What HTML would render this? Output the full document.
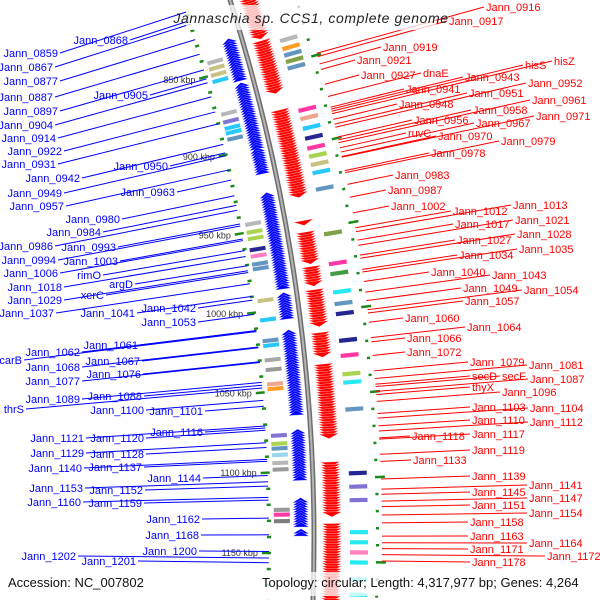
<!DOCTYPE html>
<html><head><meta charset="utf-8"><style>
html,body{margin:0;padding:0;background:#fff;}
svg{display:block;}
text{font-family:"Liberation Sans",sans-serif;}
</style></head><body>
<svg id="chart" width="600" height="600" viewBox="0 0 600 600" xmlns="http://www.w3.org/2000/svg">
<g id="ticks"></g>
<g id="boxes"></g>
<g id="arrows"></g>
<g id="backbone"></g>
<g id="lines"></g>
<g id="labels"></g>
<rect x="186" y="5" width="250" height="25" fill="#fff" fill-opacity="0.75"/>
<text x="311" y="23" text-anchor="middle" font-size="14" font-style="italic" fill="#222" letter-spacing="0.6">Jannaschia sp. CCS1, complete genome</text>
<text x="8" y="587" font-size="13" fill="#111">Accession: NC_007802</text>
<rect x="258" y="572" width="342" height="24" fill="#fff" fill-opacity="0.75"/>
<text x="262" y="587" font-size="13" fill="#111">Topology: circular; Length: 4,317,977 bp; Genes: 4,264</text>
</svg>
<script>
// ---- data ----
const tickKbp = [850, 900, 950, 1000, 1050, 1100, 1150];
const redClusterStart = [810, 838, 881, 949, 956, 977, 991, 1017, 1036, 1095, 1132];
const redClusterEnd   = [836, 870, 935, 951, 975, 989, 1013, 1031, 1081, 1127, 1179];
const blueClusterStart = [831, 859, 900, 928, 990, 1013, 1074, 1116, 1135];
const blueClusterEnd   = [857, 900, 916, 987, 1006, 1065, 1105, 1133, 1139];
const boxKbp = [841,845,849,853,874,879,883,886,890,944,949,953,960,964,969,972,992,1004,1017,1020,1029,1035,1044,1047,1076,1081,1084,1088,1093,1097,1122,1125,1129,
  840,845,849,853,857,883,888,894,900,906,911,916,921,931,958,976,982,993,1000,1006,1022,1031,1042,1047,1063,1101,1109,1117,1136,1142,1148,1154,1164,1173];
const boxSide = [-1,-1,-1,-1,-1,-1,-1,-1,-1,-1,-1,-1,-1,-1,-1,-1,-1,-1,-1,-1,-1,-1,-1,-1,-1,-1,-1,-1,-1,-1,-1,-1,-1,
  1,1,1,1,1,1,1,1,1,1,1,1,1,1,1,1,1,1,1,1,1,1,1,1,1,1,1,1,1,1,1,1,1];
const boxColor = ["#aaa","#bdb76b","#bdb76b","#00bfff","#aaa","#6a5acd","#00bfff","#00bfff","#4682b4","#aaa","#9acd32","#9acd32","#000080","#ff69b4","#4682b4","#4682b4","#bdb76b","#00bfff","#4682b4","#00bfff","#999","#888","#e9967a","#ff8c00","#6a5acd","#9acd32","#4682b4","#87ceeb","#aaa","#888","#888","#ff1493","#666",
  "#aaa","#ff8c00","#4682b4","#6b8e23","#4682b4","#ff1493","#e9967a","#00bfff","#000080","#ff1493","#9acd32","#bdb76b","#00bfff","#4682b4","#6b8e23","#ff1493","#228b22","#00e5ee","#4682b4","#000080","#000080","#ff1493","#9acd32","#00e5ee","#4682b4","#000080","#6a5acd","#6a5acd","#00e5ee","#00e5ee","#ff69b4","#00e5ee","#00e5ee","#00e5ee"];

const leftNames = ["Jann_0868","Jann_0859","Jann_0867","Jann_0877","Jann_0887","Jann_0905","Jann_0897","Jann_0904","Jann_0914","Jann_0922","Jann_0931","Jann_0942","Jann_0950","Jann_0949","Jann_0963","Jann_0957","Jann_0980","Jann_0984","Jann_0986","Jann_0993","Jann_0994","Jann_1003","Jann_1006","rimO","Jann_1018","argD","Jann_1029","xerC","Jann_1037","Jann_1041","Jann_1042","Jann_1053","Jann_1061","carB","Jann_1062","Jann_1067","Jann_1068","Jann_1076","Jann_1077","Jann_1088","Jann_1089","thrS","Jann_1100","Jann_1101","Jann_1116","Jann_1121","Jann_1120","Jann_1129","Jann_1128","Jann_1140","Jann_1137","Jann_1144","Jann_1153","Jann_1152","Jann_1160","Jann_1159","Jann_1162","Jann_1168","Jann_1200","Jann_1202","Jann_1201"];
const leftX = [128,58,53,58,53,148,58,53,56,62,56,80,168,62,175,64,120,101,53,116,56,118,58,101,62,133,62,104,54,135,196,196,138,22,80,140,80,141,80,142,80,24,144,203,203,84,144,84,144,82,142,201,83,143,81,142,200,199,197,76,136];
const leftY = [40,53,67,81,97,95,111,125,138,151,164,178,166,193,192,206,219,232,246,247,260,261,273,275,287,284,300,295,313,313,308,322,345,360,352,361,367,374,381,396,399,409,410,411,432,438,438,453,454,468,467,478,488,490,502,503,519,535,551,556,561];

const rightNames = ["Jann_0916","Jann_0917","Jann_0919","Jann_0921","Jann_0927","dnaE","hisS","hisZ","Jann_0943","Jann_0952","Jann_0941","Jann_0951","Jann_0961","Jann_0948","Jann_0958","Jann_0971","Jann_0956","Jann_0967","ruvC","Jann_0970","Jann_0979","Jann_0978","Jann_0983","Jann_0987","Jann_1002","Jann_1012","Jann_1013","Jann_1017","Jann_1021","Jann_1027","Jann_1028","Jann_1034","Jann_1035","Jann_1040","Jann_1043","Jann_1049","Jann_1054","Jann_1057","Jann_1060","Jann_1064","Jann_1066","Jann_1072","Jann_1079","Jann_1081","secD","secF","Jann_1087","thyX","Jann_1096","Jann_1103","Jann_1104","Jann_1110","Jann_1112","Jann_1118","Jann_1117","Jann_1119","Jann_1133","Jann_1139","Jann_1141","Jann_1145","Jann_1147","Jann_1151","Jann_1154","Jann_1158","Jann_1163","Jann_1164","Jann_1171","Jann_1172","Jann_1178"];
const rightX = [486,449,383,357,361,423,525,554,465,528,406,469,532,399,473,536,414,476,408,438,501,431,395,388,391,453,513,455,515,457,517,459,519,431,492,463,524,465,405,467,407,407,470,529,472,502,530,472,502,472,530,472,530,412,472,472,413,472,529,472,529,472,529,470,470,529,470,547,472];
const rightY = [7,21,47,60,75,73,65,61,77,83,89,93,100,104,110,116,120,123,133,136,141,153,175,190,206,211,205,224,220,240,234,255,249,272,275,288,290,301,318,327,338,352,362,365,376,376,379,387,392,407,408,420,422,436,434,450,460,476,485,492,498,505,513,522,536,543,549,556,562];

// ---- geometry ----
const CX = -1464, CY = 540, R = 1778;
const NS = "http://www.w3.org/2000/svg";
function ang(kbp){ return (-15.5 + (kbp - 850) * 0.0531) * Math.PI / 180; }
function pt(kbp, r){ const a = ang(kbp); return [CX + r * Math.cos(a), CY + r * Math.sin(a)]; }
function P(p){ return p[0].toFixed(1) + "," + p[1].toFixed(1); }
function mk(tag, parent, attrs){ const e = document.createElementNS(NS, tag); for (const k in attrs) e.setAttribute(k, attrs[k]); parent.appendChild(e); return e; }

// backbone
const bb = document.getElementById("backbone");
const a0 = Math.asin((-20 - CY) / R), a1 = Math.asin((620 - CY) / R);
function arcPath(r){ return "M" + (CX + r*Math.cos(a0)).toFixed(1) + "," + (CY + r*Math.sin(a0)).toFixed(1) + " A" + r + "," + r + " 0 0 1 " + (CX + r*Math.cos(a1)).toFixed(1) + "," + (CY + r*Math.sin(a1)).toFixed(1); }
const bbOuter = mk("path", bb, {d: arcPath(R), fill: "none", stroke: "#6e6e6e", "stroke-width": 5});


const bbInner = mk("path", bb, {d: arcPath(R), fill: "none", stroke: "#b4b4b4", "stroke-width": 2});



// ticks
const tg = document.getElementById("ticks");
for (let k = 810; k <= 1180; k += 10) {
  const major = tickKbp.indexOf(k) >= 0;
  const p1 = pt(k, major ? R - 52 : R - 47), p2 = pt(k, R - 43);
  const t = mk("line", tg, {x1: p1[0], y1: p1[1], x2: p2[0], y2: p2[1], stroke: "#1a8a1a", "stroke-width": 2.5});
  
  
  const q1 = pt(k + 5, R + 62), q2 = pt(k + 5, major ? R + 72 : R + 65);
  const t2 = mk("line", tg, {x1: q1[0], y1: q1[1], x2: q2[0], y2: q2[1], stroke: "#1a8a1a", "stroke-width": 2.5});
  
  
}
tickKbp.forEach(k => {
  const p = pt(k, R - 56);
  const t = mk("text", tg, {x: p[0], y: p[1] + 3, "text-anchor": "end", "font-size": 9, fill: "#333"});
  t.textContent = k + " kbp";
  
  
});

// boxes
const bxg = document.getElementById("boxes");
boxKbp.forEach((k, i) => {
  const r1 = boxSide[i] < 0 ? R - 40 : R + 36, r2 = boxSide[i] < 0 ? R - 24 : R + 54;
  const pts = [pt(k, r1), pt(k, r2), pt(k + 2.5, r2), pt(k + 2.5, r1)].map(P).join(" ");
  const b = mk("polygon", bxg, {points: pts, fill: boxColor[i], "fill-opacity": 0.85});
  
  
});

// arrows
const ag = document.getElementById("arrows");
function cluster(s, e, dir){
  for (let k = s; k <= e - 2; k += 1.5) {
    let pts;
    if (dir > 0) pts = [pt(k, R + 8), pt(k, R + 28), pt(k + 3, R + 18)];
    else pts = [pt(k + 3, R - 21), pt(k + 3, R - 5), pt(k, R - 13)];
    const a = mk("polygon", ag, {points: pts.map(P).join(" "), fill: dir > 0 ? "#ff0000" : "#0000ff", stroke: "#fff", "stroke-width": 0.3});
    
    
  }
}
redClusterStart.forEach((s, i) => cluster(s, redClusterEnd[i], 1));
blueClusterStart.forEach((s, i) => cluster(s, blueClusterEnd[i], -1));

// labels
const lg = document.getElementById("labels"), lng = document.getElementById("lines");
function ray(x, y, r){ const dx = x - CX, dy = y - CY, n = Math.hypot(dx, dy); return [CX + dx / n * r, CY + dy / n * r]; }
leftNames.forEach((n, i) => {
  const x = leftX[i], y = leftY[i], t = ray(x, y, R - 45);
  const l = mk("line", lng, {x1: x + 2, y1: y, x2: t[0], y2: t[1], stroke: "#0000ff", "stroke-width": 1});
  
  
  const tx = mk("text", lg, {x: x, y: y + 4, "text-anchor": "end", "font-size": 11, fill: "#0000ff"});
  tx.textContent = n;
  
  
});
rightNames.forEach((n, i) => {
  const x = rightX[i], y = rightY[i], t = ray(x, y, R + 68);
  const l = mk("line", lng, {x1: t[0], y1: t[1], x2: x - 2, y2: y, stroke: "#ff0000", "stroke-width": 1});
  
  
  const tx = mk("text", lg, {x: x, y: y + 4, "font-size": 11, fill: "#ff0000"});
  tx.textContent = n;
  
  
});
</script>
</body></html>
